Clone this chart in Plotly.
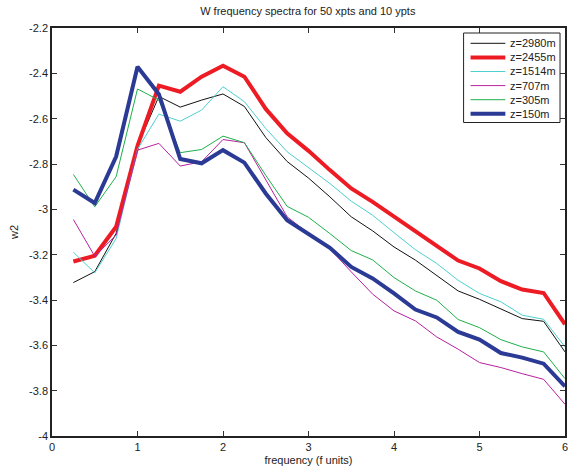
import plotly.graph_objects as go

freq = [0.25, 0.5, 0.75, 1.0, 1.25, 1.5, 1.75, 2.0, 2.25, 2.5, 2.75, 3.0,
        3.25, 3.5, 3.75, 4.0, 4.25, 4.5, 4.75, 5.0, 5.25, 5.5, 5.75, 6.0]

z2980 = [-3.323, -3.275, -3.106, -2.72, -2.502, -2.549, -2.518, -2.491, -2.546, -2.683, -2.789, -2.862,
         -2.945, -3.033, -3.095, -3.166, -3.224, -3.29, -3.36, -3.397, -3.438, -3.482, -3.494, -3.629]
z2455 = [-3.23, -3.205, -3.077, -2.72, -2.454, -2.481, -2.415, -2.366, -2.415, -2.557, -2.665, -2.742,
         -2.827, -2.908, -2.967, -3.031, -3.095, -3.162, -3.226, -3.261, -3.317, -3.354, -3.369, -3.507]
z1514 = [-3.189, -3.28, -3.129, -2.735, -2.58, -2.611, -2.562, -2.459, -2.525, -2.643, -2.746, -2.815,
         -2.886, -2.964, -3.026, -3.103, -3.178, -3.239, -3.313, -3.371, -3.408, -3.467, -3.485, -3.607]
z707 = [-3.045, -3.207, -3.114, -2.739, -2.709, -2.809, -2.790, -2.692, -2.706, -2.871, -3.033, -3.107,
        -3.174, -3.276, -3.374, -3.448, -3.492, -3.563, -3.617, -3.676, -3.698, -3.725, -3.750, -3.860]
z305 = [-2.846, -2.989, -2.856, -2.469, -2.518, -2.75, -2.736, -2.677, -2.706, -2.85, -2.987, -3.035,
        -3.107, -3.182, -3.223, -3.301, -3.36, -3.401, -3.486, -3.522, -3.575, -3.607, -3.629, -3.747]
z150 = [-2.913, -2.972, -2.767, -2.371, -2.492, -2.778, -2.797, -2.739, -2.794, -2.93, -3.048, -3.107,
        -3.17, -3.254, -3.305, -3.371, -3.442, -3.477, -3.541, -3.575, -3.634, -3.654, -3.681, -3.781]

series_names = ["z=2980m", "z=2455m", "z=1514m", "z=707m", "z=305m", "z=150m"]
series_vals = [z2980, z2455, z1514, z707, z305, z150]
series_colors = ["#111111", "#ED1C24", "#4FCFCF", "#B8219E", "#1FAF4B", "#2B3A94"]
series_widths = [1, 4, 1, 1, 1, 4]

x_ticks = [0, 1, 2, 3, 4, 5, 6]
y_ticks = [-4, -3.8, -3.6, -3.4, -3.2, -3, -2.8, -2.6, -2.4, -2.2]
y_labels = ["-4", "-3.8", "-3.6", "-3.4", "-3.2", "-3", "-2.8", "-2.6", "-2.4", "-2.2"]

W, H = 570, 469
ML, MR, MT, MB = 52, 2, 28, 33
PW, PH = W - ML - MR, H - MT - MB


def px(xp):
    return (xp - ML) / PW


def py(yp):
    return (H - MB - yp) / PH


fig = go.Figure()
for name, vals, col, w in zip(series_names, series_vals, series_colors, series_widths):
    fig.add_trace(go.Scatter(x=freq, y=vals, mode="lines", name=name, showlegend=False,
                             line=dict(color=col, width=w)))

# MATLAB-style legend box (compact)
shapes = [dict(type="rect", xref="paper", yref="paper",
               x0=px(466), x1=px(563), y0=py(33), y1=py(122.5),
               line=dict(color="#222222", width=1), fillcolor="white", layer="above")]
annotations = []
for i, (name, col, w) in enumerate(zip(series_names, series_colors, series_widths)):
    yc = 43.3 + i * 14.1
    shapes.append(dict(type="line", xref="paper", yref="paper",
                       x0=px(473), x1=px(508), y0=py(yc), y1=py(yc),
                       line=dict(color=col, width=w), layer="above"))
    annotations.append(dict(text=name, xref="paper", yref="paper", x=px(511), y=py(yc),
                            xanchor="left", yanchor="middle", showarrow=False,
                            font=dict(size=11, color="#222222")))

font = "Liberation Sans, Arial, Helvetica, sans-serif"
fig.update_layout(
    width=W, height=H,
    margin=dict(l=ML, r=MR, t=MT, b=MB),
    paper_bgcolor="white", plot_bgcolor="white",
    font=dict(family=font, size=11, color="#222222"),
    title=dict(text="W frequency spectra for 50 xpts and 10 ypts", x=0.54, xanchor="center",
               y=0.985, yanchor="top", font=dict(size=11, color="#222222")),
    showlegend=False,
    shapes=shapes,
    annotations=annotations,
)
fig.update_xaxes(range=[0, 6], tickvals=x_ticks, ticktext=[str(t) for t in x_ticks],
                 ticks="inside", ticklen=5, tickcolor="#333333", ticklabeloverflow="allow",
                 showline=True, linecolor="#222222", linewidth=1.5, mirror="ticks",
                 showgrid=False, zeroline=False,
                 title=dict(text="frequency (f units)", standoff=4, font=dict(size=11)))
fig.update_yaxes(range=[-4, -2.2], tickvals=y_ticks, ticktext=y_labels,
                 ticks="inside", ticklen=5, tickcolor="#333333",
                 showline=True, linecolor="#222222", linewidth=1.5, mirror="ticks",
                 showgrid=False, zeroline=False,
                 title=dict(text="w2", standoff=8, font=dict(size=11)))

fig.write_html("out.html", config={"displayModeBar": False},
               post_script="document.body.style.margin='0px';document.body.style.overflow='hidden';")
